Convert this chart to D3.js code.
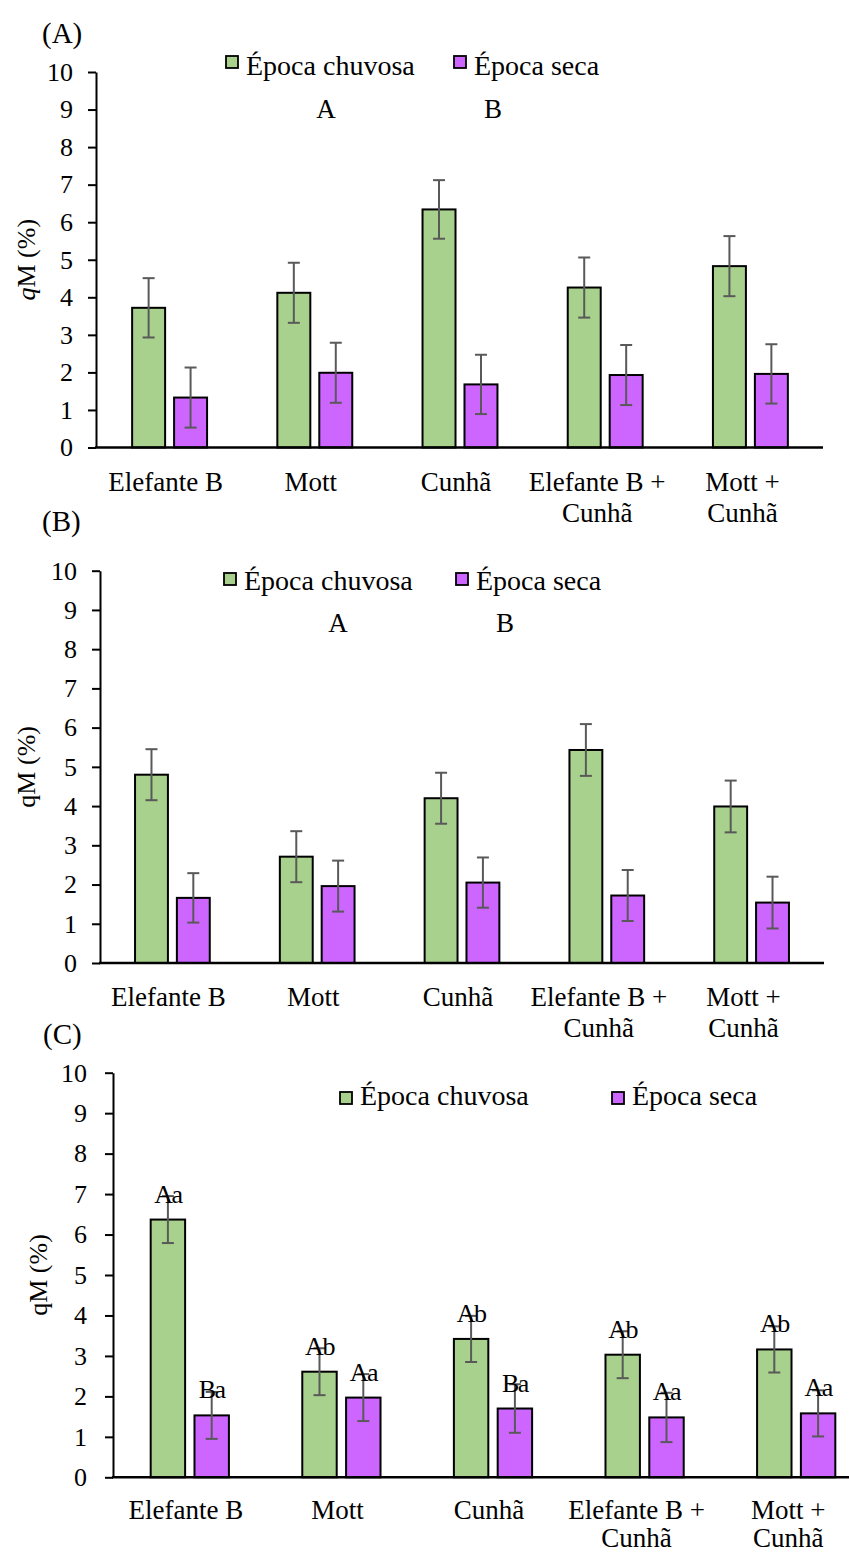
<!DOCTYPE html>
<html>
<head>
<meta charset="utf-8">
<script src="https://cdn.jsdelivr.net/npm/d3@7"></script>
<style>
  html, body { margin: 0; padding: 0; background: #fff; }
  svg { display: block; }
  text { font-family: "Liberation Serif", "Times New Roman", serif; fill: #000; }
</style>
</head>
<body>
<svg id="chart" width="849" height="1555"></svg>
<script>
// ---------------- data ----------------
const categories = ["Elefante B", "Mott", "Cunhã", "Elefante B + Cunhã", "Mott + Cunhã"];
const categoryLines = [["Elefante B"], ["Mott"], ["Cunhã"], ["Elefante B +", "Cunhã"], ["Mott +", "Cunhã"]];
const seriesNames = ["Época chuvosa", "Época seca"];
const yTicks = [0, 1, 2, 3, 4, 5, 6, 7, 8, 9, 10];

// Panel (A)
const rainyA    = [3.72, 4.12, 6.34, 4.26, 4.83];
const dryA      = [1.33, 1.99, 1.68, 1.93, 1.96];
const rainyErrA = [0.79, 0.80, 0.78, 0.80, 0.80];
const dryErrA   = [0.80, 0.80, 0.79, 0.80, 0.79];

// Panel (B)
const rainyB    = [4.80, 2.71, 4.20, 5.43, 3.99];
const dryB      = [1.66, 1.96, 2.05, 1.72, 1.54];
const rainyErrB = [0.65, 0.65, 0.65, 0.66, 0.66];
const dryErrB   = [0.63, 0.65, 0.64, 0.65, 0.66];

// Panel (C)
const rainyC    = [6.37, 2.61, 3.42, 3.03, 3.16];
const dryC      = [1.53, 1.97, 1.70, 1.48, 1.58];
const rainyErrC = [0.58, 0.58, 0.57, 0.58, 0.57];
const dryErrC   = [0.58, 0.58, 0.60, 0.61, 0.57];
const rainyLettersC = ["Aa", "Ab", "Ab", "Ab", "Ab"];
const dryLettersC   = ["Ba", "Aa", "Ba", "Aa", "Aa"];

// season comparison letters shown in (A) and (B)
const seasonLetters = ["A", "B"];

// ---------------- layout / style ----------------
const colors = { rainy: "#a9d18e", dry: "#cc66ff" };
const errColor = "#595959";

const panels = [
  { tag: "(A)", tagX: 42, tagY: 43,
    rainy: rainyA, dry: dryA, rErr: rainyErrA, dErr: dryErrA,
    xl: 97, xr: 823, axisX: 96, yt: 72, yb: 447.5, tickPad: 15,
    titleX: 35, italicQ: true, lab1: 43, lab2: 31,
    legend: { gx: 226, px: 454, sqY: 56, baseY: 75 },
    sig: { xs: [326, 493], y: 118 }, letters: null },
  { tag: "(B)", tagX: 42, tagY: 531,
    rainy: rainyB, dry: dryB, rErr: rainyErrB, dErr: dryErrB,
    xl: 100, xr: 824, axisX: 100, yt: 570.7, yb: 963, tickPad: 15,
    titleX: 35, italicQ: false, lab1: 43, lab2: 31,
    legend: { gx: 224, px: 456, sqY: 573, baseY: 590 },
    sig: { xs: [338, 505], y: 632 }, letters: null },
  { tag: "(C)", tagX: 43, tagY: 1044,
    rainy: rainyC, dry: dryC, rErr: rainyErrC, dErr: dryErrC,
    xl: 114, xr: 872, axisX: 113, yt: 1072.7, yb: 1477.3, tickPad: 18,
    titleX: 47, italicQ: false, lab1: 42, lab2: 28,
    legend: { gx: 340, px: 612, sqY: 1092, baseY: 1105 },
    sig: null, letters: { rainy: rainyLettersC, dry: dryLettersC } }
];

const svg = d3.select("#chart");

panels.forEach(p => {
  const g = svg.append("g");
  const y = d3.scaleLinear().domain([0, 10]).range([p.yb, p.yt]);
  const x = d3.scaleBand().domain(categories).range([p.xl, p.xr]).padding(0);
  const innerW = 0.516 * x.step();
  const x1 = d3.scaleBand().domain(["rainy", "dry"]).range([-innerW / 2, innerW / 2]).paddingInner(0.214);

  // panel tag
  g.append("text").attr("x", p.tagX).attr("y", p.tagY)
    .style("font-size", "29px").text(p.tag);

  // y axis
  const ya = g.append("g").attr("transform", `translate(${p.axisX},0)`)
    .call(d3.axisLeft(y).tickValues(yTicks).tickSize(8).tickSizeOuter(0).tickPadding(p.tickPad).tickFormat(d3.format("d")));
  ya.select(".domain").attr("stroke", "#000").attr("stroke-width", 2);
  ya.selectAll(".tick line").attr("stroke", "#000").attr("stroke-width", 2);
  ya.selectAll(".tick text").style("font-size", "26px")
    .style("font-family", '"Liberation Serif", "Times New Roman", serif').attr("fill", "#000");

  // y title
  const t = g.append("text")
    .attr("transform", `translate(${p.titleX},${(p.yt + p.yb) / 2}) rotate(-90)`)
    .attr("text-anchor", "middle").style("font-size", "26px");
  t.append("tspan").style("font-style", p.italicQ ? "italic" : "normal").text("q");
  t.append("tspan").text("M (%)");

  // bars
  const series = [
    { key: "rainy", vals: p.rainy, errs: p.rErr },
    { key: "dry", vals: p.dry, errs: p.dErr }
  ];
  series.forEach(s => {
    const bars = g.append("g");
    bars.selectAll("rect").data(categories).join("rect")
      .attr("x", (c) => x(c) + x.bandwidth() / 2 + x1(s.key))
      .attr("y", (c, i) => y(s.vals[i]))
      .attr("width", x1.bandwidth())
      .attr("height", (c, i) => y(0) - y(s.vals[i]))
      .attr("fill", colors[s.key]).attr("stroke", "#000").attr("stroke-width", 2);
  });

  // x axis line
  const xa = g.append("g").attr("transform", `translate(0,${y(0)})`)
    .call(d3.axisBottom(x).tickSize(0).tickSizeOuter(0).tickFormat(""));
  xa.select(".domain").attr("stroke", "#000").attr("stroke-width", 2.5)
    .attr("d", `M${p.axisX - 1},0H${p.xr}`);

  // error bars
  series.forEach(s => {
    const eg = g.append("g").attr("stroke", errColor).attr("stroke-width", 2);
    categories.forEach((c, i) => {
      const cx = x(c) + x.bandwidth() / 2 + x1(s.key) + x1.bandwidth() / 2;
      const lo = y(s.vals[i] - s.errs[i]), hi = y(s.vals[i] + s.errs[i]);
      eg.append("line").attr("x1", cx).attr("x2", cx).attr("y1", lo).attr("y2", hi);
      eg.append("line").attr("x1", cx - 6).attr("x2", cx + 6).attr("y1", lo).attr("y2", lo);
      eg.append("line").attr("x1", cx - 6).attr("x2", cx + 6).attr("y1", hi).attr("y2", hi);
    });
  });

  // significance letters above bars (C)
  if (p.letters) {
    series.forEach(s => {
      const labels = p.letters[s.key];
      g.append("g").selectAll("text").data(categories).join("text")
        .attr("x", (c) => x(c) + x.bandwidth() / 2 + x1(s.key) + x1.bandwidth() / 2)
        .attr("y", (c, i) => y(s.vals[i]) - 17)
        .attr("text-anchor", "middle").style("font-size", "26px").style("letter-spacing", "-1.5px")
        .text((c, i) => labels[i]);
    });
  }

  // category labels
  categories.forEach((c, i) => {
    const lines = categoryLines[i];
    const cx = x(c) + x.bandwidth() / 2 + (lines.length > 1 ? -8 : -4);
    const tx = g.append("text").attr("text-anchor", "middle").style("font-size", "27px");
    lines.forEach((ln, k) => {
      tx.append("tspan").attr("x", cx).attr("y", y(0) + p.lab1 + k * p.lab2).text(ln);
    });
  });

  // legend
  const lg = g.append("g");
  [["rainy", p.legend.gx], ["dry", p.legend.px]].forEach(([k, lx], j) => {
    lg.append("rect").attr("x", lx).attr("y", p.legend.sqY).attr("width", 12).attr("height", 12)
      .attr("fill", colors[k]).attr("stroke", "#000").attr("stroke-width", 1.8);
    lg.append("text").attr("x", lx + 20).attr("y", p.legend.baseY)
      .style("font-size", "28px").text(seriesNames[j]);
  });

  // season letters (A, B)
  if (p.sig) {
    p.sig.xs.forEach((sx, j) => {
      g.append("text").attr("x", sx).attr("y", p.sig.y).attr("text-anchor", "middle")
        .style("font-size", "27px").text(seasonLetters[j]);
    });
  }
});
</script>
</body>
</html>
